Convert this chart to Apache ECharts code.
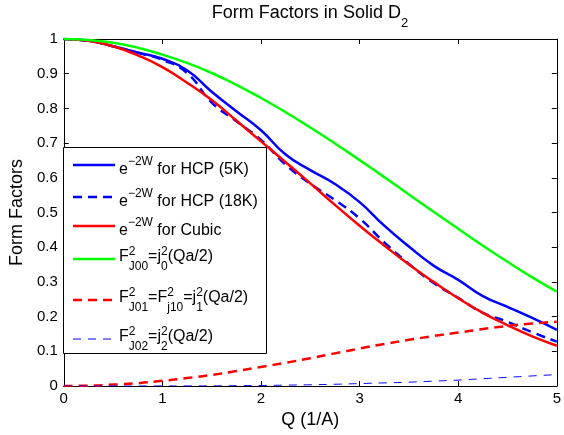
<!DOCTYPE html>
<html>
<head>
<meta charset="utf-8">
<script src="https://cdn.jsdelivr.net/npm/echarts@6/dist/echarts.min.js"></script>
<style>
  html, body { margin: 0; padding: 0; background: #fff; }
  #chart { width: 564px; height: 435px; }
</style>
</head>
<body>
<div id="chart"></div>
<script>
// Q values (1/A)
const qValues = [0, 0.25, 0.5, 0.75, 1, 1.25, 1.5, 1.75, 2, 2.25, 2.5, 2.75, 3, 3.25, 3.5, 3.75, 4, 4.25, 4.5, 4.75, 5];

// e^-2W curves
const hcp5K  = [1, 0.995, 0.979, 0.961, 0.943, 0.910, 0.848, 0.792, 0.737, 0.667, 0.622, 0.582, 0.530, 0.462, 0.402, 0.347, 0.306, 0.259, 0.228, 0.196, 0.162];
const hcp18K = [1, 0.995, 0.979, 0.960, 0.940, 0.902, 0.817, 0.763, 0.709, 0.638, 0.583, 0.536, 0.483, 0.414, 0.352, 0.297, 0.254, 0.211, 0.185, 0.155, 0.128];
const cubic  = [1, 0.995, 0.979, 0.953, 0.919, 0.874, 0.824, 0.765, 0.705, 0.645, 0.584, 0.522, 0.462, 0.405, 0.350, 0.300, 0.253, 0.211, 0.175, 0.143, 0.116];

// form factors
const fJ00 = [1, 0.997, 0.989, 0.975, 0.955, 0.931, 0.902, 0.868, 0.830, 0.789, 0.745, 0.699, 0.651, 0.602, 0.552, 0.502, 0.453, 0.404, 0.358, 0.313, 0.272];
const fJ01 = [0, 0.001, 0.004, 0.008, 0.015, 0.023, 0.032, 0.043, 0.055, 0.067, 0.080, 0.094, 0.108, 0.121, 0.133, 0.144, 0.154, 0.164, 0.173, 0.180, 0.185];
const fJ02 = [0, 0, 0, 0, 0.0001, 0.0002, 0.0004, 0.0008, 0.0015, 0.0025, 0.0036, 0.005, 0.007, 0.009, 0.011, 0.014, 0.017, 0.021, 0.025, 0.029, 0.033];

const xTicks = [0, 1, 2, 3, 4, 5];

const FONT = '"Liberation Sans", Arial, Helvetica, sans-serif';

const lines = [
  { data: hcp5K,  color: '#0000ff', width: 2.5, dash: 'solid' },
  { data: hcp18K, color: '#0000ff', width: 2.5, dash: [9, 6] },
  { data: cubic,  color: '#ff0000', width: 2.5, dash: 'solid' },
  { data: fJ00,   color: '#00ff00', width: 2.5, dash: 'solid' },
  { data: fJ01,   color: '#ff0000', width: 2.5, dash: [9, 6] },
  { data: fJ02,   color: '#0000ff', width: 1,   dash: [8, 7] }
];

// text layout with super/subscripts
const ctx = document.createElement('canvas').getContext('2d');
function tw(t, size) {
  ctx.font = size + 'px ' + FONT;
  return ctx.measureText(t).width;
}
function txt(x, y, t, size) {
  return { type: 'text', x: x, y: y, silent: true,
    style: { text: t, fontSize: size, fontFamily: FONT, fill: '#000', align: 'left', verticalAlign: 'middle' } };
}
function richLine(x, y, segs, base, small, supDy, subDy) {
  const els = [];
  let cx = x;
  segs.forEach(function (s) {
    if (s.t) {
      els.push(txt(cx, y, s.t, base));
      cx += tw(s.t, base);
    } else {
      let w = 0;
      if (s.sup) { els.push(txt(cx, y + supDy, s.sup, small)); w = Math.max(w, tw(s.sup, small)); }
      if (s.sub) { els.push(txt(cx, y + subDy, s.sub, small)); w = Math.max(w, tw(s.sub, small)); }
      cx += w;
    }
  });
  return els;
}

const legendRows = [
  { y: 165, segs: [{ t: 'e' }, { sup: '\u22122W' }, { t: ' for HCP (5K)' }] },
  { y: 197, segs: [{ t: 'e' }, { sup: '\u22122W' }, { t: ' for HCP (18K)' }] },
  { y: 226, segs: [{ t: 'e' }, { sup: '\u22122W' }, { t: ' for Cubic' }] },
  { y: 259, segs: [{ t: 'F' }, { sup: '2', sub: 'J00' }, { t: '=j' }, { sup: '2', sub: '0' }, { t: '(Qa/2)' }] },
  { y: 300, segs: [{ t: 'F' }, { sup: '2', sub: 'J01' }, { t: '=F' }, { sup: '2', sub: 'j10' }, { t: '=j' }, { sup: '2', sub: '1' }, { t: '(Qa/2)' }] },
  { y: 339, segs: [{ t: 'F' }, { sup: '2', sub: 'J02' }, { t: '=j' }, { sup: '2', sub: '2' }, { t: '(Qa/2)' }] }
];

const graphics = [];
graphics.push({ type: 'rect', shape: { x: 63.5, y: 147.5, width: 203, height: 206 },
  style: { fill: '#fff', stroke: '#000', lineWidth: 1 }, z: 10 });
legendRows.forEach(function (row, i) {
  const l = lines[i];
  graphics.push({ type: 'line', z: 11, shape: { x1: 73, y1: row.y, x2: 115, y2: row.y },
    style: { stroke: l.color, lineWidth: l.width, lineDash: l.dash === 'solid' ? null : l.dash } });
  const isE = row.segs[0].t === 'e';
  const ty = isE ? row.y + 5 : row.y - 2;
  richLine(119, ty, row.segs, 16, 12, isE ? -8 : -5, 10).forEach(function (e) { e.z = 11; graphics.push(e); });
});

// title with subscript
const titleSegs = [{ t: 'Form Factors in Solid D' }, { sub: '2' }];
const titleW = tw('Form Factors in Solid D', 18) + tw('2', 13);
richLine(310 - titleW / 2, 13, titleSegs, 18, 13, -6, 10).forEach(function (e) { graphics.push(e); });

const myChart = echarts.init(document.getElementById('chart'));

const axisCommon = {
  axisLine: { show: true, onZero: false, lineStyle: { color: '#000', width: 1 } },
  axisTick: { show: true, inside: true, length: 5, lineStyle: { color: '#000' } },
  splitLine: { show: false }
};

const option = {
  animation: false,
  backgroundColor: '#fff',
  grid: { left: 62, right: 7, top: 39, bottom: 49 },
  xAxis: [
    Object.assign({
      type: 'value', min: 0, max: 5, interval: 1, position: 'bottom',
      name: 'Q (1/A)', nameLocation: 'middle', nameGap: 22,
      nameTextStyle: { fontSize: 18, fontFamily: FONT, color: '#000' },
      axisLabel: { fontSize: 15, fontFamily: FONT, color: '#000', margin: 5,
        formatter: function (v) { return xTicks.indexOf(v) >= 0 ? String(v) : ''; } }
    }, axisCommon),
    Object.assign({
      type: 'value', min: 0, max: 5, interval: 1, position: 'top',
      axisLabel: { show: false }
    }, axisCommon)
  ],
  yAxis: [
    Object.assign({
      type: 'value', min: 0, max: 1, interval: 0.1, position: 'left',
      name: 'Form Factors', nameLocation: 'middle', nameGap: 36,
      nameTextStyle: { fontSize: 18, fontFamily: FONT, color: '#000' },
      axisLabel: { fontSize: 15, fontFamily: FONT, color: '#000', margin: 6 }
    }, axisCommon),
    Object.assign({
      type: 'value', min: 0, max: 1, interval: 0.1, position: 'right',
      axisLabel: { show: false }
    }, axisCommon)
  ],
  series: lines.map(function (l) {
    return {
      type: 'line',
      xAxisIndex: 0,
      yAxisIndex: 0,
      showSymbol: false,
      smooth: 0.5,
      clip: true,
      data: qValues.map(function (q, i) { return [q, l.data[i]]; }),
      lineStyle: { color: l.color, width: l.width, type: l.dash }
    };
  }),
  graphic: graphics
};

myChart.setOption(option);
window.addEventListener('resize', function () {
  myChart.resize();
});
</script>
</body>
</html>
